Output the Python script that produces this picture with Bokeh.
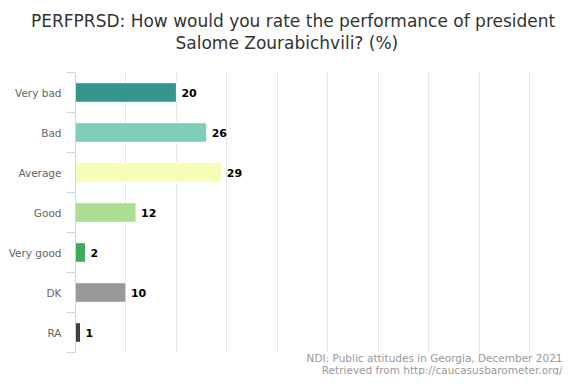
from bokeh.plotting import figure
from bokeh.models import Range1d, FixedTicker, Title, ColumnDataSource
from bokeh.core.properties import value
from bokeh.embed import file_html
from bokeh.resources import INLINE

categories = ["Very bad", "Bad", "Average", "Good", "Very good", "DK", "RA"]
values = [20, 26, 29, 12, 2, 10, 1]
colors = ["#35968c", "#7fcdbb", "#f7fcb9", "#addd8e", "#41ab5d", "#999999", "#404040"]
grid_ticks = [0, 10, 20, 30, 40, 50, 60, 70, 80, 90]

title_lines = ["PERFPRSD: How would you rate the performance of president",
               "Salome Zourabichvili? (%)"]
credit_lines = ["NDI: Public attitudes in Georgia, December 2021",
                "Retrieved from http://caucasusbarometer.org/"]

FONT = "DejaVu Sans"

ypos = [i + 0.5 for i in range(len(categories))]
src = ColumnDataSource(dict(y=ypos, v=values, c=colors, lab=[str(v) for v in values]))

p = figure(width=562, height=375, output_backend="svg", toolbar_location=None,
           x_range=Range1d(0, 96.5), y_range=Range1d(len(categories), 0),
           min_border_left=75, min_border_right=0, min_border_top=0,
           min_border_bottom=0)
p.outline_line_color = None
p.background_fill_color = "white"
p.border_fill_color = "white"
p.title = None

p.hbar(y="y", right="v", left=0, height=0.49, fill_color="c", line_color="white",
       line_width=1, source=src)
p.text(x="v", y="y", text="lab", source=src, x_offset=5, text_baseline="middle",
       text_align="left", text_font=value(FONT), text_font_size="11px",
       text_font_style="bold", text_color="#000000")

p.xaxis.visible = False
p.xgrid.ticker = FixedTicker(ticks=grid_ticks)
p.xgrid.grid_line_color = "#e6e6e6"
p.ygrid.grid_line_color = None

yax = p.yaxis[0]
yax.ticker = FixedTicker(ticks=ypos, minor_ticks=list(range(len(categories) + 1)))
yax.major_label_overrides = {y: c for y, c in zip(ypos, categories)}
yax.major_tick_out = 0
yax.major_tick_in = 0
yax.minor_tick_out = 9
yax.minor_tick_in = 0
yax.minor_tick_line_color = "#ccd6eb"
yax.axis_line_color = "#ccd6eb"
yax.major_label_standoff = 5
yax.major_label_text_font = FONT
yax.major_label_text_font_size = "10.5px"
yax.major_label_text_color = "#666666"

def title(text, size, color, align="left", offset=0, standoff=0):
    return Title(text=text, align=align, offset=offset, standoff=standoff,
                 text_font=FONT, text_font_size=size, text_font_style="normal",
                 text_color=color)

# above: nearest to frame first
p.add_layout(title(" ", "1px", "#ffffff", standoff=17), "above")
p.add_layout(title(title_lines[1], "17px", "#333333", offset=100), "above")
p.add_layout(title(title_lines[0], "17px", "#333333", offset=-44.5), "above")
p.add_layout(title(" ", "1px", "#ffffff", standoff=5), "above")

# below: nearest to frame first
p.add_layout(title(credit_lines[0], "10.5px", "#999999", align="right", standoff=-4.6), "below")
p.add_layout(title(credit_lines[1], "10.5px", "#999999", align="right", standoff=0), "below")

open("out.html", "w").write(file_html(p, INLINE))
